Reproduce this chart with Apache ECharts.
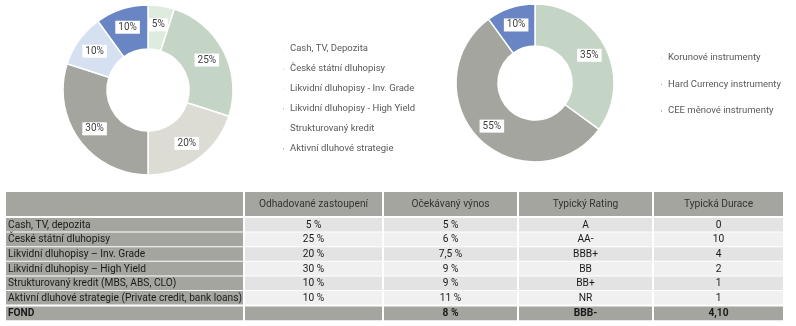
<!DOCTYPE html>
<html>
<head>
<meta charset="utf-8">
<script src="https://cdn.jsdelivr.net/npm/echarts@6/dist/echarts.min.js"></script>
<style>
  html, body { margin: 0; padding: 0; background: #ffffff; }
  #chart { width: 796px; height: 326px; }
</style>
</head>
<body>
<div id="chart"></div>
<script>
// Allocation by asset class
const assetNames = [
  'Cash, TV, Depozita',
  'České státní dluhopisy',
  'Likvidní dluhopisy - Inv. Grade',
  'Likvidní dluhopisy - High Yield',
  'Strukturovaný kredit',
  'Aktivní dluhové strategie'
];
const assetShares = [5, 25, 20, 30, 10, 10];
const assetColors = ['#e0ebe0', '#c4d4c5', '#dcdcd5', '#a5a59f', '#d5e1f0', '#6985c4'];

// Allocation by currency
const currencyNames = ['Korunové instrumenty', 'Hard Currency instrumenty', 'CEE měnové instrumenty'];
const currencyShares = [35, 55, 10];
const currencyColors = ['#c4d4c5', '#a5a59f', '#6985c4'];

// Table contents
const tableHeader = ['', 'Odhadované zastoupení', 'Očekávaný výnos', 'Typický Rating', 'Typická Durace'];
const tableRows = [
  'Cash, TV, depozita',
  'České státní dluhopisy',
  'Likvidní dluhopisy – Inv. Grade',
  'Likvidní dluhopisy – High Yield',
  'Strukturovaný kredit (MBS, ABS, CLO)',
  'Aktivní dluhové strategie (Private credit, bank loans)'
];
const colShare = ['5 %', '25 %', '20 %', '30 %', '10 %', '10 %'];
const colYield = ['5 %', '6 %', '7,5 %', '9 %', '9 %', '11 %'];
const colRating = ['A', 'AA-', 'BBB+', 'BB', 'BB+', 'NR'];
const colDuration = ['0', '10', '4', '2', '1', '1'];
const fondRow = ['FOND', '', '8 %', 'BBB-', '4,10'];

const FONT = 'Roboto, "Noto Sans", sans-serif';

function pieData(names, values, colors) {
  return names.map((n, i) => ({ name: n, value: values[i], itemStyle: { color: colors[i] } }));
}

const pieLabel = {
  show: true,
  position: 'inside',
  formatter: '{c}%',
  color: '#404040',
  fontFamily: FONT,
  fontSize: 10,
  backgroundColor: '#ffffff',
  padding: [2, 3, 1, 3]
};

// Table layout (drawn with graphic elements)
const colBounds = [[6, 243], [245, 382], [384, 517], [519, 652], [654, 783]];
const headerTop = 192, headerH = 24;
const rowTop = 218, rowH = 14.6, rowGap = 1;
const GREY = '#a5a59f';
const rowBg = ['#e3e3e3', '#f0f0f0'];
const CELL_FONT = '10.2px ' + FONT;

function buildTable() {
  const els = [];
  // header
  colBounds.forEach((cb, c) => {
    els.push({ type: 'rect', shape: { x: cb[0], y: headerTop, width: cb[1] - cb[0], height: headerH }, style: { fill: GREY } });
    if (tableHeader[c]) {
      els.push({ type: 'text', x: (cb[0] + cb[1]) / 2, y: headerTop + headerH / 2,
        style: { text: tableHeader[c], fill: '#333333', font: CELL_FONT, textAlign: 'center', textVerticalAlign: 'middle' } });
    }
  });
  const cols = [tableRows, colShare, colYield, colRating, colDuration];
  tableRows.forEach((_, r) => {
    const y = rowTop + r * rowH;
    colBounds.forEach((cb, c) => {
      els.push({ type: 'rect', shape: { x: cb[0], y: y, width: cb[1] - cb[0], height: rowH - rowGap },
        style: { fill: c === 0 ? GREY : rowBg[r % 2] } });
      const left = c === 0;
      els.push({ type: 'text', x: left ? cb[0] + 2 : (cb[0] + cb[1]) / 2, y: y + (rowH - rowGap) / 2 + 0.5,
        style: { text: cols[c][r], fill: '#1a1a1a', font: CELL_FONT, textAlign: left ? 'left' : 'center', textVerticalAlign: 'middle' } });
    });
  });
  // fund total row
  const fy = rowTop + tableRows.length * rowH + 1;
  colBounds.forEach((cb, c) => {
    els.push({ type: 'rect', shape: { x: cb[0], y: fy, width: cb[1] - cb[0], height: rowH - rowGap }, style: { fill: GREY } });
    if (fondRow[c]) {
      const left = c === 0;
      els.push({ type: 'text', x: left ? cb[0] + 2 : (cb[0] + cb[1]) / 2, y: fy + (rowH - rowGap) / 2 + 0.5,
        style: { text: fondRow[c], fill: '#1a1a1a', font: 'bold ' + CELL_FONT, textAlign: left ? 'left' : 'center', textVerticalAlign: 'middle' } });
    }
  });
  return els;
}

const chart = echarts.init(document.getElementById('chart'), null, { renderer: 'canvas' });
chart.setOption({
  backgroundColor: '#ffffff',
  animation: false,
  legend: [
    {
      data: assetNames,
      orient: 'vertical',
      left: 281,
      top: 44,
      padding: 0,
      icon: 'rect',
      itemWidth: 3,
      itemHeight: 3,
      itemGap: 10,
      textStyle: { color: '#595959', fontFamily: FONT, fontSize: 9.5 }
    },
    {
      data: currencyNames,
      orient: 'vertical',
      left: 659,
      top: 53,
      padding: 0,
      icon: 'rect',
      itemWidth: 3,
      itemHeight: 3,
      itemGap: 16.5,
      textStyle: { color: '#595959', fontFamily: FONT, fontSize: 9.5 }
    }
  ],
  series: [
    {
      type: 'pie',
      center: [148, 90],
      radius: [41, 85],
      startAngle: 90,
      clockwise: true,
      avoidLabelOverlap: false,
      itemStyle: { borderColor: '#ffffff', borderWidth: 1.5 },
      label: pieLabel,
      labelLine: { show: false },
      emphasis: { disabled: true },
      data: pieData(assetNames, assetShares, assetColors)
    },
    {
      type: 'pie',
      center: [535, 83],
      radius: [37, 79],
      startAngle: 90,
      clockwise: true,
      avoidLabelOverlap: false,
      itemStyle: { borderColor: '#ffffff', borderWidth: 1.5 },
      label: pieLabel,
      labelLine: { show: false },
      emphasis: { disabled: true },
      data: pieData(currencyNames, currencyShares, currencyColors)
    }
  ],
  graphic: buildTable()
});
</script>
</body>
</html>
